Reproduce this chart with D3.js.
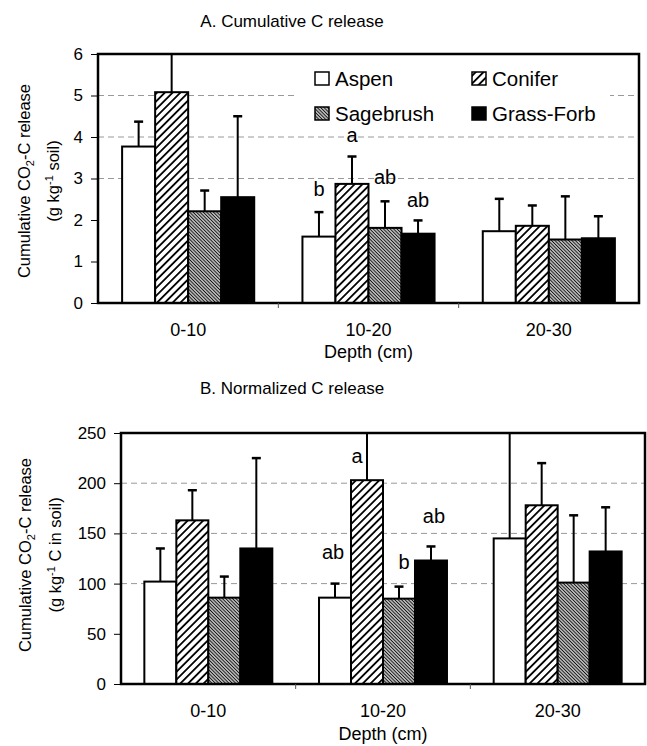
<!DOCTYPE html>
<html>
<head>
<meta charset="utf-8">
<script src="https://cdn.jsdelivr.net/npm/d3@7"></script>
<style>
  body { margin: 0; background: #fff; }
  svg text { font-family: "Liberation Sans", Arial, sans-serif; fill: #000; }
</style>
</head>
<body>
<div id="chart"></div>
<script>
const depths = ["0-10", "10-20", "20-30"];
const covers = ["Aspen", "Conifer", "Sagebrush", "Grass-Forb"];

// A. cumulative CO2-C release (g kg-1 soil), mean and standard error by depth
const cumAspen = [3.77, 1.60, 1.73];
const cumConifer = [5.08, 2.87, 1.86];
const cumSage = [2.21, 1.81, 1.53];
const cumGrass = [2.55, 1.67, 1.56];
const cumAspenSE = [0.60, 0.59, 0.78];
const cumConiferSE = [1.30, 0.66, 0.49];
const cumSageSE = [0.50, 0.64, 1.04];
const cumGrassSE = [1.95, 0.32, 0.53];

// B. normalized release (g kg-1 C in soil)
const normAspen = [102, 86, 145];
const normConifer = [163, 203, 178];
const normSage = [86, 85, 101];
const normGrass = [135, 123, 132];
const normAspenSE = [33, 14, 135];
const normConiferSE = [30, 62, 42];
const normSageSE = [21, 12, 67];
const normGrassSE = [90, 14, 44];

const cumTicks = [0, 1, 2, 3, 4, 5, 6];
const normTicks = [0, 50, 100, 150, 200, 250];

// significance letters (10-20 cm layer)
const cumLetters = [
  { depth: "10-20", cover: "Aspen", text: "b", at: 2.59, dx: 0 },
  { depth: "10-20", cover: "Conifer", text: "a", at: 3.89, dx: 0 },
  { depth: "10-20", cover: "Sagebrush", text: "ab", at: 2.87, dx: 0 },
  { depth: "10-20", cover: "Grass-Forb", text: "ab", at: 2.32, dx: 0 },
];
const normLetters = [
  { depth: "10-20", cover: "Aspen", text: "ab", at: 125, dx: -2 },
  { depth: "10-20", cover: "Conifer", text: "a", at: 220, dx: -10 },
  { depth: "10-20", cover: "Sagebrush", text: "b", at: 115, dx: 5 },
  { depth: "10-20", cover: "Grass-Forb", text: "ab", at: 160, dx: 3 },
];

const svg = d3.select("#chart").append("svg").attr("width", 647).attr("height", 746);
const defs = svg.append("defs");

function hatch(id, size, angle, sw, color) {
  const p = defs
    .append("pattern")
    .attr("id", id)
    .attr("patternUnits", "userSpaceOnUse")
    .attr("width", size)
    .attr("height", size)
    .attr("patternTransform", `rotate(${angle})`);
  p.append("rect").attr("width", size).attr("height", size).attr("fill", "#fff");
  p.append("line")
    .attr("x1", size / 2).attr("x2", size / 2)
    .attr("y1", 0).attr("y2", size)
    .attr("stroke", color)
    .attr("stroke-width", sw);
}
hatch("conifer", 5.5, 45, 1.8, "#000");
hatch("sage", 2.4, -45, 1.3, "#111");

const fill = d3.scaleOrdinal().domain(covers).range(["#fff", "url(#conifer)", "url(#sage)", "#000"]);

function drawPanel(p) {
  const x0 = d3.scaleBand().domain(depths).range([p.left, p.right]);
  const x1 = d3.scaleBand().domain(covers).range([0, x0.bandwidth()]).paddingOuter(0.73);
  const y = d3.scaleLinear().domain([0, p.yMax]).range([p.bottom, p.top]);
  const g = svg.append("g");

  g.append("text")
    .attr("x", 292).attr("y", p.titleY)
    .attr("text-anchor", "middle")
    .style("font-size", "17px")
    .text(p.title);

  g.selectAll(".grid")
    .data(p.grid)
    .join("line")
    .attr("x1", p.left).attr("x2", p.right)
    .attr("y1", (d) => y(d)).attr("y2", (d) => y(d))
    .attr("stroke", "#999")
    .attr("stroke-width", 1)
    .attr("stroke-dasharray", "6,4");

  const rows = depths.map((d, i) => ({
    depth: d,
    vals: covers.map((c, j) => ({ cover: c, mean: p.means[j][i], se: p.se[j][i] })),
  }));

  const groups = g.selectAll(".grp")
    .data(rows)
    .join("g")
    .attr("transform", (d) => `translate(${x0(d.depth)},0)`);

  const bars = groups.selectAll("g")
    .data((d) => d.vals)
    .join("g");

  bars.append("line")
    .attr("x1", (d) => x1(d.cover) + x1.bandwidth() / 2)
    .attr("x2", (d) => x1(d.cover) + x1.bandwidth() / 2)
    .attr("y1", (d) => y(d.mean))
    .attr("y2", (d) => (d.mean + d.se > p.yMax ? p.top - 1 : y(d.mean + d.se)))
    .attr("stroke", "#000")
    .attr("stroke-width", 2);

  bars.filter((d) => d.mean + d.se <= p.yMax)
    .append("line")
    .attr("x1", (d) => x1(d.cover) + x1.bandwidth() / 2 - 4.5)
    .attr("x2", (d) => x1(d.cover) + x1.bandwidth() / 2 + 4.5)
    .attr("y1", (d) => y(d.mean + d.se))
    .attr("y2", (d) => y(d.mean + d.se))
    .attr("stroke", "#000")
    .attr("stroke-width", 2.5);

  bars.append("rect")
    .attr("x", (d) => x1(d.cover))
    .attr("y", (d) => y(d.mean))
    .attr("width", x1.bandwidth())
    .attr("height", (d) => y(0) - y(d.mean))
    .attr("fill", (d) => fill(d.cover))
    .attr("stroke", "#000")
    .attr("stroke-width", 2);

  g.selectAll(".letter")
    .data(p.letters)
    .join("text")
    .attr("x", (d) => x0(d.depth) + x1(d.cover) + x1.bandwidth() / 2 + d.dx)
    .attr("y", (d) => y(d.at))
    .attr("text-anchor", "middle")
    .style("font-size", "20px")
    .text((d) => d.text);

  // frame
  g.append("rect")
    .attr("x", p.left).attr("y", p.top)
    .attr("width", p.right - p.left).attr("height", p.bottom - p.top)
    .attr("fill", "none")
    .attr("stroke", "#000")
    .attr("stroke-width", 2.5);

  const yAxis = g.append("g")
    .attr("transform", `translate(${p.left},0)`)
    .call(d3.axisLeft(y).tickValues(p.ticks).tickFormat((d) => d).tickSize(7).tickPadding(8));
  yAxis.select(".domain").remove();
  yAxis.selectAll("text").style("font-size", "17px");

  const xAxis = g.append("g")
    .attr("transform", `translate(0,${p.bottom})`)
    .call(d3.axisBottom(x0).tickSize(0).tickPadding(20));
  xAxis.select(".domain").remove();
  xAxis.selectAll("text").style("font-size", "18px");

  g.selectAll(".xtick")
    .data(depths.slice(1))
    .join("line")
    .attr("x1", (d) => x0(d)).attr("x2", (d) => x0(d))
    .attr("y1", p.bottom).attr("y2", p.bottom + 5)
    .attr("stroke", "#555")
    .attr("stroke-width", 1);

  g.append("text")
    .attr("x", (p.left + p.right) / 2)
    .attr("y", p.depthY)
    .attr("text-anchor", "middle")
    .style("font-size", "18px")
    .text("Depth (cm)");

  const cy = p.labelY;
  const l1 = g.append("text")
    .attr("transform", `translate(${p.label1X},${cy}) rotate(-90)`)
    .attr("text-anchor", "middle")
    .style("font-size", "16.5px");
  l1.append("tspan").text("Cumulative CO");
  l1.append("tspan").attr("dy", 4).style("font-size", "11px").text("2");
  l1.append("tspan").attr("dy", -4).text("-C release");

  const l2 = g.append("text")
    .attr("transform", `translate(${p.label2X},${cy}) rotate(-90)`)
    .attr("text-anchor", "middle")
    .style("font-size", "16.5px");
  l2.append("tspan").text("(g kg");
  l2.append("tspan").attr("dy", -6).style("font-size", "11px").text("-1");
  l2.append("tspan").attr("dy", 6).text(p.unitTail);

  return { x0, x1, y };
}

drawPanel({
  title: "A. Cumulative C release", titleY: 27,
  left: 98, right: 639, top: 54, bottom: 303,
  yMax: 6, ticks: cumTicks, grid: [3, 4, 5],
  means: [cumAspen, cumConifer, cumSage, cumGrass],
  se: [cumAspenSE, cumConiferSE, cumSageSE, cumGrassSE],
  letters: cumLetters,
  depthY: 358, labelY: 181, label1X: 30, label2X: 59,
  unitTail: " soil)",
});

drawPanel({
  title: "B. Normalized C release", titleY: 394,
  left: 121, right: 645, top: 433, bottom: 684,
  yMax: 250, ticks: normTicks, grid: [100, 150, 200],
  means: [normAspen, normConifer, normSage, normGrass],
  se: [normAspenSE, normConiferSE, normSageSE, normGrassSE],
  letters: normLetters,
  depthY: 740, labelY: 555, label1X: 31, label2X: 61,
  unitTail: " C in soil)",
});

// legend (sits on a white box over the top gridline)
const legend = svg.append("g");
legend.append("rect")
  .attr("x", 295).attr("y", 62).attr("width", 315).attr("height", 66)
  .attr("fill", "#fff");
const legendPos = d3.scaleOrdinal().domain(covers).range([[315, 72], [472, 72], [315, 107], [472, 107]]);
const items = legend.selectAll(".item")
  .data(covers)
  .join("g")
  .attr("transform", (d) => `translate(${legendPos(d)[0]},${legendPos(d)[1]})`);
items.append("rect")
  .attr("width", 14).attr("height", 13)
  .attr("fill", (d) => fill(d))
  .attr("stroke", "#000")
  .attr("stroke-width", 1.5);
items.append("text")
  .attr("x", 20).attr("y", 14)
  .style("font-size", "20.5px")
  .text((d) => d);
</script>
</body>
</html>
